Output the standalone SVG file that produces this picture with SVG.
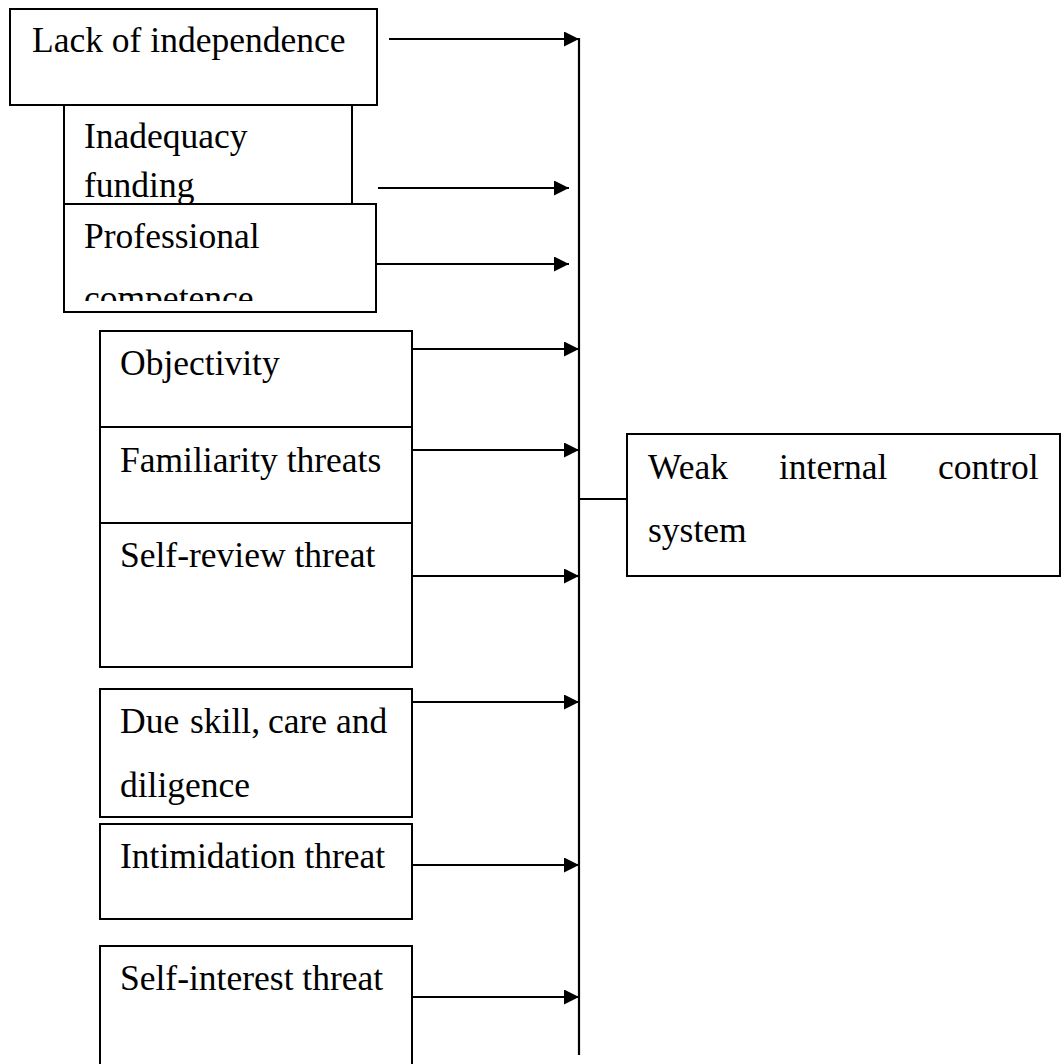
<svg xmlns="http://www.w3.org/2000/svg" width="1061" height="1064" viewBox="0 0 1061 1064">
<style>
.box{fill:#fff;stroke:#000;stroke-width:2}
.t{font-family:"Liberation Serif","Times New Roman",serif;font-size:35.5px;fill:#000}
.c{stroke:#000;stroke-width:2.2;fill:none}
</style>
<defs>
<marker id="ah" markerWidth="15" markerHeight="15" refX="15" refY="7.5" orient="auto" markerUnits="userSpaceOnUse">
<path d="M0,0 L15,7.5 L0,15 Z" fill="#000"/>
</marker>
<clipPath id="profclip"><rect x="64" y="204" width="312" height="97"/></clipPath>
</defs>
<rect width="1061" height="1064" fill="#fff"/>
<g id="lack"><rect class="box" x="10" y="9" width="367" height="96"/><text class="t" x="32" y="52">Lack of independence</text></g>
<g id="inadequacy"><rect class="box" x="64" y="105" width="288" height="115"/><text class="t" x="84" y="148">Inadequacy</text><text class="t" x="84" y="197">funding</text></g>
<g id="professional"><rect class="box" x="64" y="204" width="312" height="108"/><g clip-path="url(#profclip)"><text class="t" x="84" y="248">Professional</text><text class="t" x="84" y="310">competence</text></g></g>
<g id="objectivity"><rect class="box" x="100" y="331" width="312" height="96"/><text class="t" x="120" y="375">Objectivity</text></g>
<g id="familiarity"><rect class="box" x="100" y="427" width="312" height="96"/><text class="t" x="120" y="472">Familiarity threats</text></g>
<g id="selfreview"><rect class="box" x="100" y="523" width="312" height="144"/><text class="t" x="120" y="567">Self-review threat</text></g>
<g id="dueskill"><rect class="box" x="100" y="689" width="312" height="128"/><text class="t" y="733"><tspan x="120">Due</tspan><tspan x="190">skill,</tspan><tspan x="268">care</tspan><tspan x="336">and</tspan></text><text class="t" x="120" y="797">diligence</text></g>
<g id="intimidation"><rect class="box" x="100" y="824" width="312" height="95"/><text class="t" x="120" y="868">Intimidation threat</text></g>
<g id="selfinterest"><rect class="box" x="100" y="946" width="312" height="130"/><text class="t" x="120" y="990">Self-interest threat</text></g>
<g id="weak"><rect class="box" x="627" y="434" width="433" height="142"/><text class="t" y="479"><tspan x="648">Weak</tspan><tspan x="779">internal</tspan><tspan x="938">control</tspan></text><text class="t" x="648" y="542">system</text></g>
<g id="connectors">
<line class="c" x1="579" y1="38" x2="579" y2="1055"/>
<line class="c" x1="579" y1="499" x2="627" y2="499"/>
<line class="c" x1="389" y1="39" x2="579" y2="39" marker-end="url(#ah)"/>
<line class="c" x1="378" y1="188" x2="569" y2="188" marker-end="url(#ah)"/>
<line class="c" x1="376" y1="264" x2="569" y2="264" marker-end="url(#ah)"/>
<line class="c" x1="412" y1="349" x2="579" y2="349" marker-end="url(#ah)"/>
<line class="c" x1="412" y1="450" x2="579" y2="450" marker-end="url(#ah)"/>
<line class="c" x1="412" y1="576" x2="579" y2="576" marker-end="url(#ah)"/>
<line class="c" x1="412" y1="702" x2="579" y2="702" marker-end="url(#ah)"/>
<line class="c" x1="412" y1="865" x2="579" y2="865" marker-end="url(#ah)"/>
<line class="c" x1="412" y1="997" x2="579" y2="997" marker-end="url(#ah)"/>
</g>
</svg>
